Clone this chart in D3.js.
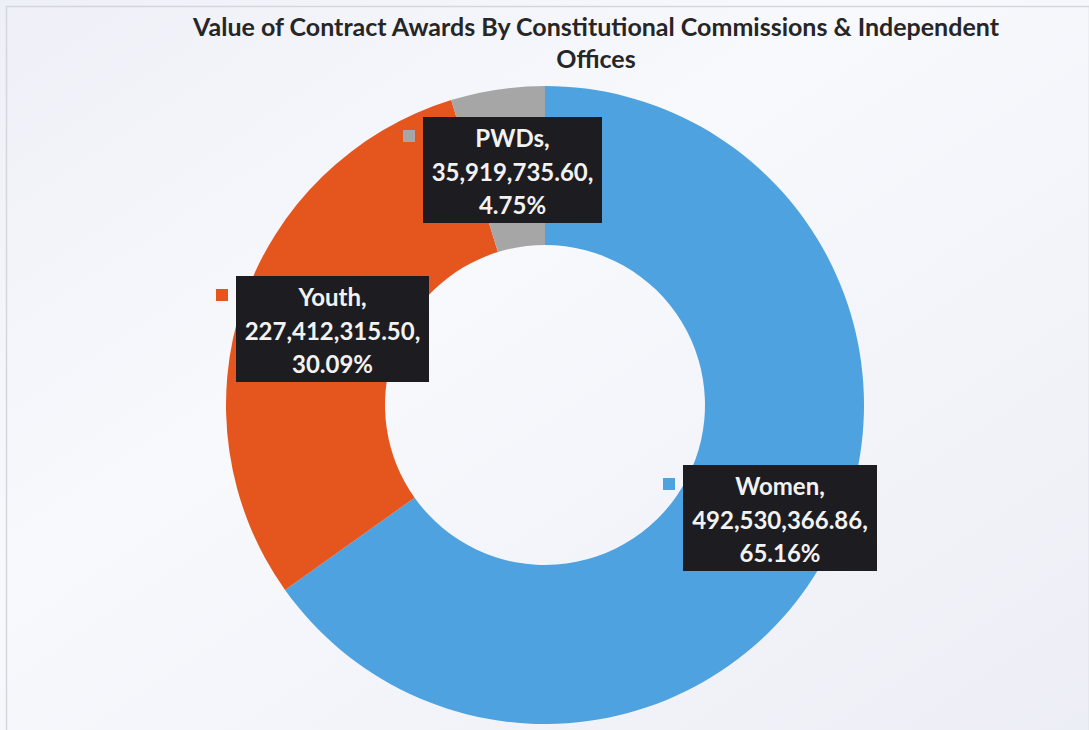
<!DOCTYPE html>
<html><head><meta charset="utf-8">
<script src="https://cdn.jsdelivr.net/npm/d3@7"></script>
<style>
html,body{margin:0;padding:0;background:#f4f5fa;}
svg{display:block;}
</style></head>
<body>
<svg id="chart" width="1089" height="730"></svg>
<script>
const categories = ["Women", "Youth", "PWDs"];
const values = [492530366.86, 227412315.50, 35919735.60];
const valueLabels = ["492,530,366.86", "227,412,315.50", "35,919,735.60"];
const percentLabels = ["65.16%", "30.09%", "4.75%"];
const colors = ["#4ea2df", "#e5561f", "#a6a6a6"];
const titleLines = ["Value of Contract Awards By Constitutional Commissions & Independent", "Offices"];

const W = 1089, H = 730;
const svg = d3.select("#chart");
const defs = svg.append("defs");
const grad = defs.append("linearGradient").attr("id","bg").attr("x1","0").attr("y1","0").attr("x2","1").attr("y2","1");
grad.append("stop").attr("offset","0").attr("stop-color","#eef0f7");
grad.append("stop").attr("offset","0.4").attr("stop-color","#f8f9fd");
grad.append("stop").attr("offset","1").attr("stop-color","#eceef5");
svg.append("rect").attr("width",W).attr("height",H).attr("fill","url(#bg)");
svg.append("rect").attr("x",6.5).attr("y",6.5).attr("width",W-6).attr("height",H).attr("fill","none").attr("stroke","#d4d6de").attr("stroke-width",1.5);

// Title
svg.append("g").selectAll("text").data(titleLines).join("text")
  .attr("x", 596).attr("y", (d,i)=> 36 + i*32)
  .attr("text-anchor","middle")
  .attr("font-family","Lato, 'Open Sans', sans-serif")
  .attr("font-weight","bold").attr("font-size", 25)
  .attr("fill","#262626")
  .text(d=>d);

const cx = 545, cy = 405, R = 319, r = 160;
const pie = d3.pie().sort(null).value(d=>d);
const arcs = pie(values);
const arc = d3.arc().innerRadius(r).outerRadius(R);
const g = svg.append("g").attr("transform",`translate(${cx},${cy})`);
g.selectAll("path").data(arcs).join("path")
  .attr("d", arc)
  .attr("fill",(d,i)=>colors[i]);

// Data label boxes (positions of label callouts)
const boxes = [
  {x:683, y:465, w:194, h:106},
  {x:236, y:276, w:193, h:106},
  {x:423, y:117, w:179, h:106}
];
const lg = svg.append("g");
boxes.forEach((b,i)=>{
  const grp = lg.append("g");
  grp.append("rect").attr("x",b.x).attr("y",b.y).attr("width",b.w).attr("height",b.h).attr("fill","#1d1d21");
  grp.append("rect").attr("x",b.x-20).attr("y",b.y+13).attr("width",12).attr("height",12).attr("fill",colors[i]);
  const lines = [categories[i]+",", valueLabels[i]+",", percentLabels[i]];
  grp.selectAll("text").data(lines).join("text")
    .attr("x", b.x + b.w/2).attr("y",(d,k)=> b.y + 30 + k*33.5)
    .attr("text-anchor","middle")
    .attr("font-family","Lato, 'Open Sans', sans-serif")
    .attr("font-weight","bold").attr("font-size",24)
    .attr("fill","#f2f2f2")
    .text(d=>d);
});
</script>
</body></html>
